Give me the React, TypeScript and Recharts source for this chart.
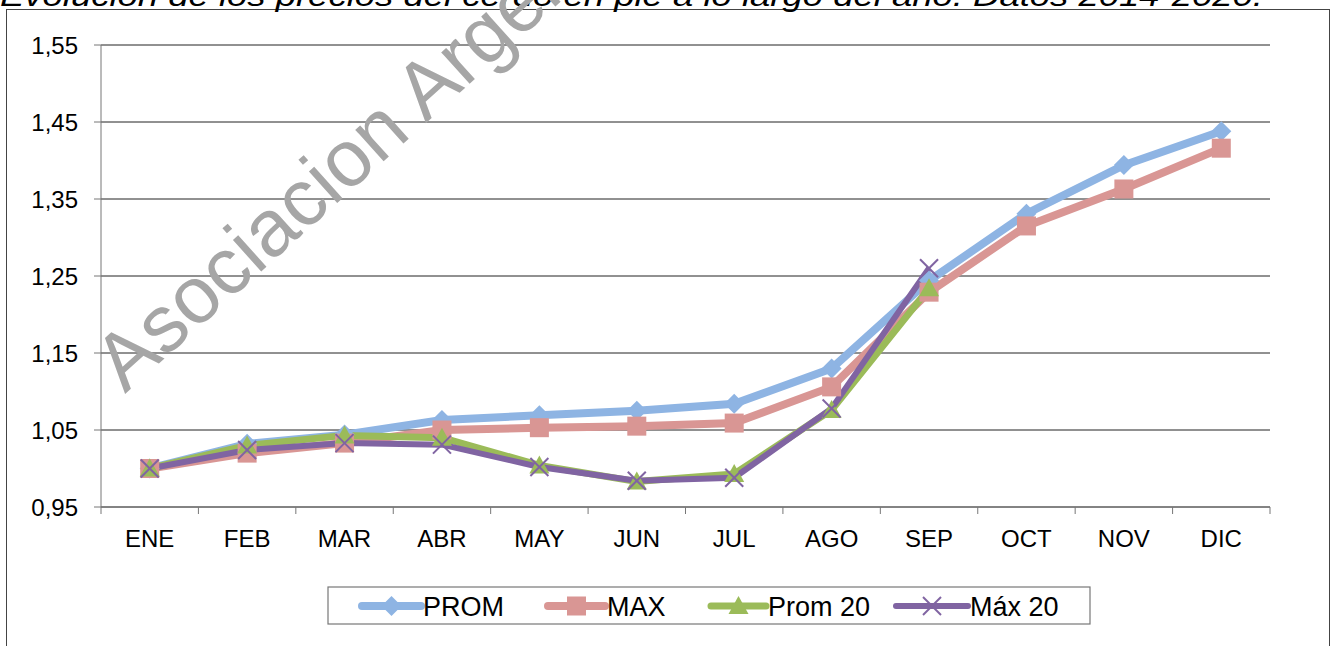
import React from "react"
import { LineChart, Line, XAxis, YAxis, CartesianGrid } from "recharts"

const months = ["ENE", "FEB", "MAR", "ABR", "MAY", "JUN", "JUL", "AGO", "SEP", "OCT", "NOV", "DIC"]
const prom = [1.0, 1.032, 1.044, 1.063, 1.069, 1.075, 1.084, 1.13, 1.244, 1.331, 1.394, 1.438]
const max = [1.0, 1.02, 1.033, 1.05, 1.053, 1.055, 1.059, 1.106, 1.229, 1.315, 1.363, 1.416]
const prom20 = [1.0, 1.03, 1.043, 1.04, 1.004, 0.983, 0.993, 1.076, 1.234, null, null, null]
const max20 = [1.0, 1.024, 1.033, 1.031, 1.002, 0.984, 0.988, 1.078, 1.26, null, null, null]
const yTicks = [0.95, 1.05, 1.15, 1.25, 1.35, 1.45, 1.55]

const data = months.map((m, i) => ({
  idx: i,
  name: m,
  prom: prom[i],
  max: max[i],
  prom20: prom20[i],
  max20: max20[i],
}))

const xTicks = [...months.flatMap((_, i) => [i - 0.5, i]), months.length - 0.5]

const FONT = "'Liberation Sans', Arial, sans-serif"

function marker(kind: string, cx: number, cy: number, color: string, key?: any) {
  const s = 10
  if (kind === "diamond")
    return <path key={key} d={`M${cx},${cy - s} L${cx + s},${cy} L${cx},${cy + s} L${cx - s},${cy} Z`} fill={color} />
  if (kind === "square")
    return <rect key={key} x={cx - 9.5} y={cy - 9.5} width={19} height={19} fill={color} />
  if (kind === "triangle")
    return <path key={key} d={`M${cx},${cy - 10} L${cx + 10},${cy + 8} L${cx - 10},${cy + 8} Z`} fill={color} />
  return (
    <g key={key} stroke={color} strokeWidth={2}>
      <line x1={cx - 9} y1={cy - 9} x2={cx + 9} y2={cy + 9} />
      <line x1={cx - 9} y1={cy + 9} x2={cx + 9} y2={cy - 9} />
    </g>
  )
}

const series = [
  { key: "prom", name: "PROM", color: "#8EB4E3", width: 8, kind: "diamond" },
  { key: "max", name: "MAX", color: "#D99694", width: 8, kind: "square" },
  { key: "prom20", name: "Prom 20", color: "#9BBB59", width: 7, kind: "triangle" },
  { key: "max20", name: "Máx 20", color: "#8064A2", width: 6, kind: "x" },
]

const XTick = (props: any) => {
  const { x, y, payload } = props
  const v = payload.value
  if (Number.isInteger(v)) {
    return (
      <text x={x} y={y + 40} textAnchor="middle" fontSize={24} fontFamily={FONT} fill="#000">
        {months[v]}
      </text>
    )
  }
  return <line x1={x} x2={x} y1={y} y2={y + 7} stroke="#777" />
}

// legend layout
const legendItems = [
  { x: 362, tx: 423 },
  { x: 548, tx: 607 },
  { x: 711, tx: 768 },
  { x: 896, tx: 970 },
]

export default function App() {
  return (
    <div
      style={{
        position: "fixed",
        left: 0,
        top: 0,
        width: 1335,
        height: 646,
        overflow: "hidden",
        background: "#fff",
      }}
    >
      <div
        style={{
          position: "absolute",
          left: 6,
          top: 9,
          width: 1322,
          height: 700,
          border: "1.5px solid #444",
        }}
      />
      <div style={{ position: "absolute", left: 0, top: 0 }}>
        <LineChart width={1335} height={646} data={data} margin={{ top: 45, right: 65, left: 21, bottom: 99 }}>
          <CartesianGrid vertical={false} stroke="#222" />
          <XAxis
            dataKey="idx"
            type="number"
            domain={[-0.5, 11.5]}
            ticks={xTicks}
            interval={0}
            tick={<XTick />}
            tickLine={false}
            tickSize={0}
            tickMargin={0}
            height={40}
            axisLine={{ stroke: "#777" }}
          />
          <YAxis
            domain={[0.95, 1.55]}
            ticks={yTicks}
            width={80}
            tickSize={7}
            tickMargin={16}
            tickLine={{ stroke: "#777" }}
            axisLine={{ stroke: "#777" }}
            tick={{ fontSize: 24, fontFamily: FONT, fill: "#000" }}
            tickFormatter={(v: number) => v.toFixed(2).replace(".", ",")}
          />
          {series.map((s) => (
            <Line
              key={s.key}
              dataKey={s.key}
              name={s.name}
              stroke={s.color}
              strokeWidth={s.width}
              isAnimationActive={false}
              connectNulls={false}
              dot={(p: any) =>
                p.cy == null || p.value == null ? <g key={p.key} /> : marker(s.kind, p.cx, p.cy, s.color, p.key)
              }
              activeDot={false}
            />
          ))}
        </LineChart>
      </div>
      <svg width={1335} height={646} style={{ position: "absolute", left: 0, top: 0, pointerEvents: "none" }}>
        <text
          x={0}
          y={6}
          fontSize={30}
          fontStyle="italic"
          fontFamily={FONT}
          fill="#000"
          textLength={1263}
          lengthAdjust="spacingAndGlyphs"
        >
          Evolución de los precios del cerdo en pie a lo largo del año. Datos 2014-2020.
        </text>
        <text
          x={125}
          y={394}
          fontSize={80}
          fontFamily={FONT}
          fill="#a6a6a6"
          transform="rotate(-42 125 394)"
        >
          Asociacion Argentina de Productores de Porcinos
        </text>
        <rect x={328} y={587} width={762} height={37} fill="#fff" stroke="#777" strokeWidth={1.2} />
        {series.map((s, i) => {
          const it = legendItems[i]
          const x2 = it.tx - 2
          return (
            <g key={s.key}>
              <line x1={it.x} y1={606} x2={x2} y2={606} stroke={s.color} strokeWidth={s.width} strokeLinecap="round" />
              {marker(s.kind, (it.x + x2) / 2, 606, s.color)}
              <text x={it.tx} y={616} fontSize={27} fontFamily={FONT} fill="#000">
                {s.name}
              </text>
            </g>
          )
        })}
      </svg>
    </div>
  )
}
